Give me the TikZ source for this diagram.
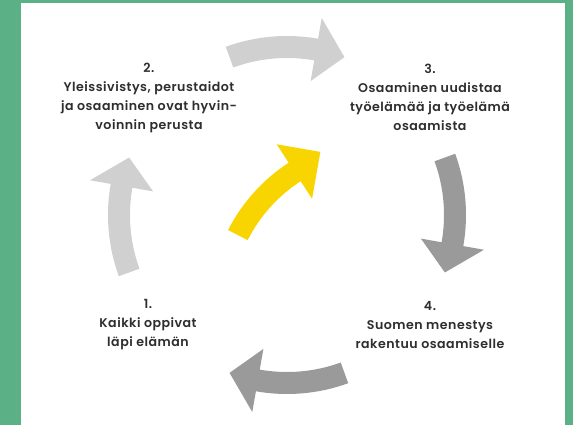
\documentclass[tikz,border=0pt]{standalone}
\usepackage{fontspec}
\newfontfamily\lab{Poppins SemiBold}[LetterSpace=4]
\usetikzlibrary{calc}
\definecolor{frame}{HTML}{5BB085}
\definecolor{light}{HTML}{D0D0D0}
\definecolor{dark}{HTML}{9A9A9A}
\definecolor{sun}{HTML}{F8D500}
\definecolor{txt}{HTML}{2E2E2E}
\begin{document}
\begin{tikzpicture}[x=1pt,y=1pt,
  lbl/.style={text=txt, font=\lab\fontsize{12.6}{19}\selectfont, align=center, inner sep=0pt}]
\useasboundingbox (0,0) rectangle (573,-425);
\fill[frame] (0,0) rectangle (573,-425);
\fill[white] (21,-3) rectangle (565,-425);
\coordinate (C) at (287,-215);
\foreach \t/\c in {200/light,110/light,20/dark,290/dark}{
  \pgfmathsetmacro\a{\t-30}
  \pgfmathsetmacro\b{\t-40}
  \fill[\c] ($(C)+(\t:179pt)$) arc[start angle=\t, end angle=\a, radius=179pt]
    -- ($(C)+(\a:200pt)$) -- ($(C)+(\b:168pt)$) -- ($(C)+(\a:136pt)$)
    -- ($(C)+(\a:157pt)$) arc[start angle=\a, end angle=\t, radius=157pt] -- cycle;
}
\coordinate (Y) at (384,-309.5);
\fill[sun] ($(Y)+(153:175pt)$) arc[start angle=153, end angle=123, radius=175pt]
  -- ($(Y)+(123:197pt)$) -- ($(Y)+(112:170pt)$) -- ($(Y)+(123:132pt)$)
  -- ($(Y)+(123:153pt)$) arc[start angle=123, end angle=153, radius=153pt] -- cycle;
\node[lbl] (n2) at (149,-97.5) {2.\\Yleissivistys, perustaidot\\ja osaaminen ovat hyvin-\\voinnin perusta};
\node[lbl] (n3) at (430,-97) {3.\\Osaaminen uudistaa\\työelämää ja työelämä\\osaamista};
\node[lbl] (n1) at (148,-325) {1.\\Kaikki oppivat\\läpi elämän};
\node[lbl] (n4) at (430,-325) {4.\\Suomen menestys\\rakentuu osaamiselle};
\end{tikzpicture}
\end{document}
